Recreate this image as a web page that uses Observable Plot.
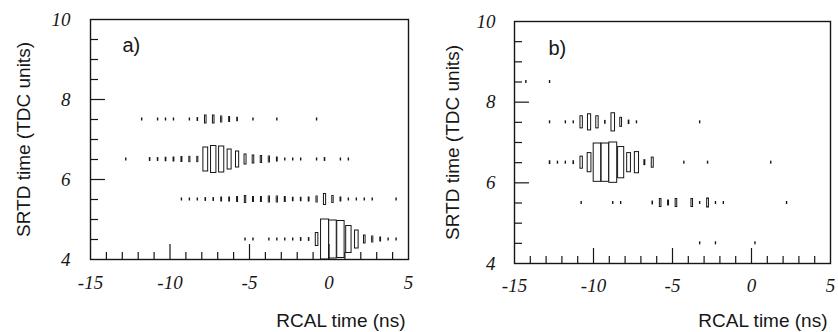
<!DOCTYPE html>
<html><head><meta charset="utf-8">
<script src="https://cdn.jsdelivr.net/npm/d3@7"></script>
<script src="https://cdn.jsdelivr.net/npm/@observablehq/plot@0.6"></script>
<style>
body{margin:0;background:#fff;}
#wrap{display:flex;width:838px;height:332px;}
</style></head><body><div id="wrap"></div>
<script>
// ---- axes / tick values ----
const xTickLabels = [-15, -10, -5, 0, 5];
const yTickLabels = [4, 6, 8, 10];
const xMajorTicks = [-10, -5, 0];
const xMinorTicks = [-14, -13, -12, -11, -9, -8, -7, -6, -4, -3, -2, -1, 1, 2, 3, 4];
const yMajorTicks = [6, 8];
const yMinorTicks = [4.5, 5, 5.5, 6.5, 7, 7.5, 8.5, 9, 9.5];
const binWidthX = 0.5;   // ns
const binHeightY = 1;    // TDC units
const maxCount = 400;    // content of a full-size box

// ---- panel a) : bin centres (ns) and contents per SRTD row ----
const aRow75X = [-11.75, -10.75, -10.25, -9.75, -8.75, -8.25, -7.75, -7.25, -6.75, -6.25, -5.75, -4.75, -3.25, -0.75];
const aRow75N = [1, 1, 1, 1, 1, 2, 16, 16, 9, 6, 3, 1, 1, 1];
const aRow65X = [-12.75, -11.25, -10.75, -10.25, -9.75, -9.25, -8.75, -8.25, -7.75, -7.25, -6.75, -6.25, -5.75, -5.25, -4.75, -4.25, -3.75, -3.25, -2.75, -2.25, -1.75, -0.75, -0.25, 0.75, 1.25];
const aRow65N = [1, 2, 2, 3, 4, 6, 7, 7, 144, 182, 169, 100, 64, 25, 16, 12, 9, 4, 1, 1, 1, 1, 2, 1, 1];
const aRow55X = [-9.25, -8.75, -8.25, -7.75, -7.25, -6.75, -6.25, -5.75, -5.25, -4.75, -4.25, -3.75, -3.25, -2.75, -2.25, -1.75, -1.25, -0.75, -0.25, 0.25, 0.75, 1.25, 1.75, 2.25, 2.75, 4.25];
const aRow55N = [1, 1, 1, 2, 2, 4, 4, 6, 12, 6, 6, 9, 9, 6, 3, 3, 4, 9, 30, 12, 4, 1, 1, 1, 1, 1];
const aRow45X = [-5.25, -4.75, -3.75, -3.25, -2.75, -2.25, -1.75, -1.25, -0.75, -0.25, 0.25, 0.75, 1.25, 1.75, 2.25, 2.75, 3.25, 3.75, 4.25];
const aRow45N = [1, 1, 1, 1, 1, 1, 2, 2, 42, 400, 361, 342, 182, 81, 16, 9, 4, 1, 1];

// ---- panel b) ----
const bRow85X = [-14.25, -12.75];
const bRow85N = [1, 1];
const bRow75X = [-12.75, -11.75, -11.25, -10.75, -10.25, -9.75, -9.25, -8.75, -8.25, -7.75, -7.25, -3.25];
const bRow75N = [1, 1, 1, 36, 64, 36, 2, 81, 20, 3, 1, 1];
const bRow65X = [-12.75, -12.25, -11.75, -11.25, -10.75, -10.25, -9.75, -9.25, -8.75, -8.25, -7.75, -7.25, -6.75, -6.25, -4.25, -2.75, 1.25];
const bRow65N = [2, 1, 1, 2, 36, 90, 361, 361, 400, 240, 90, 110, 6, 25, 1, 1, 1];
const bRow55X = [-10.75, -8.75, -8.25, -6.25, -5.75, -5.25, -4.75, -3.75, -3.25, -2.75, -2.25, -1.75, 2.25];
const bRow55N = [1, 1, 1, 2, 16, 6, 16, 16, 1, 20, 1, 1, 1];
const bRow45X = [-3.25, -2.25, 0.25];
const bRow45N = [1, 1, 1];

const xTitle = "RCAL time (ns)";
const yTitle = "SRTD time (TDC units)";

function cells(rows) {
  const out = [];
  for (const [y, xs, ns] of rows) xs.forEach((x, i) => out.push({x, y, n: ns[i]}));
  return out;
}
const side = d => Math.sqrt(d.n / maxCount);

const serif = "'Liberation Serif', 'DejaVu Serif', serif";
const sans = "'Liberation Sans', Arial, sans-serif";

function panel({data, tag, mL, mR, mT, mB, yTitleDx, tagDx, tagDy, titleDy, tickPadX, tickPadY}) {
  const W = 419, H = 332;
  const innerW = W - mL - mR, innerH = H - mT - mB;
  const ink = "#161616";
  const numFont = {fontFamily: serif, fontStyle: "italic", fontSize: 19, fill: ink};
  return Plot.plot({
    width: W, height: H,
    marginLeft: mL, marginRight: mR, marginTop: mT, marginBottom: mB,
    x: {domain: [-15, 5]},
    y: {domain: [4, 10]},
    style: {background: "white", color: ink},
    marks: [
      Plot.rect(data, {
        x1: d => d.x - binWidthX / 2 * side(d), x2: d => d.x + binWidthX / 2 * side(d),
        y1: d => d.y - binHeightY / 2 * side(d), y2: d => d.y + binHeightY / 2 * side(d),
        fill: "white", stroke: ink, strokeWidth: 1
      }),
      Plot.tickX(xMajorTicks, {x: d => d, insetTop: innerH - 15, stroke: ink, strokeWidth: 1.2}),
      Plot.tickX(xMinorTicks, {x: d => d, insetTop: innerH - 7, stroke: ink, strokeWidth: 1.2}),
      Plot.tickY(yMajorTicks, {y: d => d, insetRight: innerW - 15, stroke: ink, strokeWidth: 1.2}),
      Plot.tickY(yMinorTicks, {y: d => d, insetRight: innerW - 8, stroke: ink, strokeWidth: 1.2}),
      Plot.frame({stroke: ink, strokeWidth: 1.4}),
      Plot.axisX({ticks: xTickLabels, tickSize: 0, tickPadding: tickPadX, tickFormat: d => String(d), label: null, ...numFont}),
      Plot.axisY({ticks: yTickLabels, tickSize: 0, tickPadding: tickPadY, tickFormat: d => String(d), label: null, ...numFont}),
      Plot.text([xTitle], {text: d => d, frameAnchor: "bottom-right", textAnchor: "end", lineAnchor: "bottom",
        dx: -3, dy: titleDy, fontFamily: sans, fontSize: 19, fill: ink}),
      Plot.text([yTitle], {text: d => d, frameAnchor: "left", rotate: -90, textAnchor: "middle", lineAnchor: "middle",
        dx: yTitleDx, fontFamily: sans, fontSize: 19, fill: ink}),
      Plot.text([tag], {text: d => d, frameAnchor: "top-left", textAnchor: "start", lineAnchor: "bottom",
        dx: tagDx, dy: tagDy, fontFamily: sans, fontSize: 20, fill: ink})
    ]
  });
}

const dataA = cells([[7.5, aRow75X, aRow75N], [6.5, aRow65X, aRow65N], [5.5, aRow55X, aRow55N], [4.5, aRow45X, aRow45N]]);
const dataB = cells([[8.5, bRow85X, bRow85N], [7.5, bRow75X, bRow75N], [6.5, bRow65X, bRow65N], [5.5, bRow55X, bRow55N], [4.5, bRow45X, bRow45N]]);

const wrap = document.getElementById("wrap");
wrap.append(panel({data: dataA, tag: "a)", mL: 90, mR: 11, mT: 19, mB: 73, yTitleDx: -67, tagDx: 32, tagDy: 32, titleDy: 67, tickPadX: 16, tickPadY: 20}));
wrap.append(panel({data: dataB, tag: "b)", mL: 95, mR: 8, mT: 21, mB: 69, yTitleDx: -62, tagDx: 34, tagDy: 33, titleDy: 63, tickPadX: 15, tickPadY: 19}));
</script></body></html>
